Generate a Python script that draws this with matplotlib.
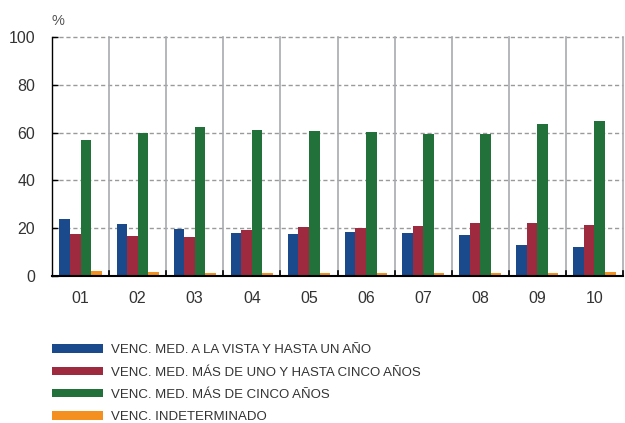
import numpy as np
import matplotlib
matplotlib.use("Agg")
import matplotlib.pyplot as plt
from matplotlib.patches import Patch

plt.rcParams['font.family'] = ['Liberation Sans', 'DejaVu Sans']

# datos (%)
years = ["01", "02", "03", "04", "05", "06", "07", "08", "09", "10"]
vista_un_ano = [23.7, 21.7, 19.5, 18.2, 17.5, 18.4, 18.0, 17.0, 13.0, 12.3]
uno_cinco = [17.4, 16.7, 16.4, 19.2, 20.5, 20.1, 20.9, 22.0, 22.1, 21.3]
mas_cinco = [56.8, 60.0, 62.5, 61.1, 60.6, 60.2, 59.3, 59.6, 63.5, 64.8]
indeterminado = [2.1, 1.7, 1.3, 1.3, 1.2, 1.2, 1.2, 1.2, 1.2, 1.7]

labels = ["VENC. MED. A LA VISTA Y HASTA UN AÑO",
          "VENC. MED. MÁS DE UNO Y HASTA CINCO AÑOS",
          "VENC. MED. MÁS DE CINCO AÑOS",
          "VENC. INDETERMINADO"]
colors = ["#1a4a8c", "#9e2a40", "#22703a", "#f39020"]
series = [vista_un_ano, uno_cinco, mas_cinco, indeterminado]

txt = "#333333"

fig = plt.figure(figsize=(6.25, 4.23), dpi=100)
ax = fig.add_axes([0.0832, 0.3475, 0.9136, 0.565])

x = np.arange(len(years))
w = 0.185
for i, (vals, c) in enumerate(zip(series, colors)):
    ax.bar(x + (i - 1.5) * w, vals, width=w, color=c, zorder=3)

ax.set_xlim(-0.5, len(years) - 0.5)
ax.set_ylim(0, 100)
ax.set_yticks([0, 20, 40, 60, 80, 100])
ax.set_xticks(x)
ax.set_xticklabels(years)

# lineas horizontales discontinuas
for yv in [20, 40, 60, 80, 100]:
    ax.axhline(yv, color="#9a9a9a", lw=1, ls=(0, (3, 2)), zorder=1, clip_on=False)
# separadores verticales entre años
for b in np.arange(0.5, len(years), 1.0):
    ax.axvline(b, color="#a8abae", lw=1.2, zorder=1, clip_on=False)
    ax.plot([b, b], [0, 2.2], color="black", lw=1.2, zorder=4, clip_on=False)

for s in ["top", "right"]:
    ax.spines[s].set_visible(False)
ax.spines["left"].set_color("black")
ax.spines["left"].set_linewidth(1.0)
ax.spines["bottom"].set_color("black")
ax.spines["bottom"].set_linewidth(1.5)
ax.spines["bottom"].set_zorder(5)

ax.tick_params(axis="y", direction="in", length=4, width=1, colors="black",
               labelcolor=txt, labelsize=11.5, pad=12)
ax.tick_params(axis="x", length=0, labelcolor=txt, labelsize=11.5, pad=11)

fig.text(0.083, 0.95, "%", color="#555555", fontsize=10.5, ha="left", va="center")

handles = [Patch(facecolor=c, edgecolor="none") for c in colors]
fig.legend(handles, labels, loc="upper left", bbox_to_anchor=(0.083, 0.186),
           frameon=False, handlelength=3.9, handleheight=0.6,
           handletextpad=0.6, labelspacing=0.78, labelcolor=txt,
           borderpad=0, borderaxespad=0,
           prop={"family": ["Liberation Sans Narrow", "Liberation Sans"], "size": 9.5})

fig.savefig("out.png", dpi=100)
